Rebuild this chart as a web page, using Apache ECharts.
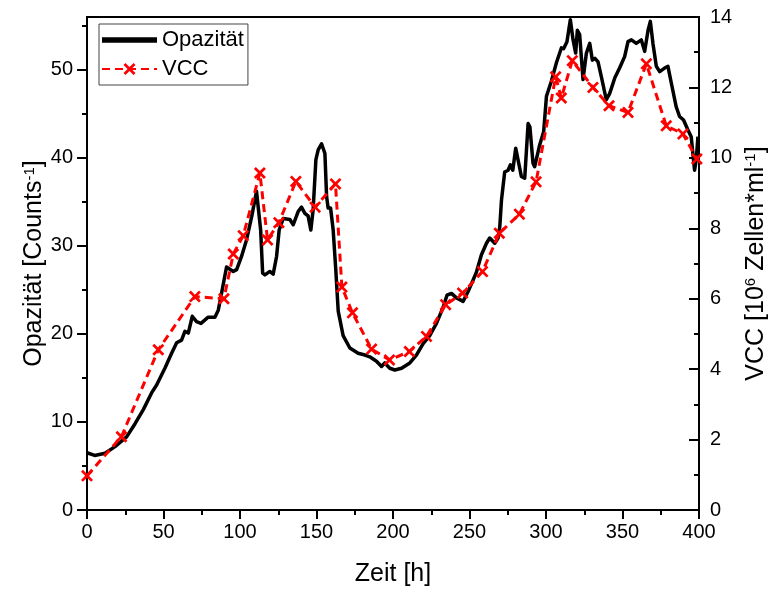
<!DOCTYPE html>
<html><head><meta charset="utf-8">
<script src="https://cdn.jsdelivr.net/npm/echarts@6/dist/echarts.min.js"></script>
<style>html,body{margin:0;padding:0;background:#fff}#c{width:769px;height:590px}</style>
</head><body><div id="c"></div>
<script>
const opazitaetZeit = [0,5,11.8,18.3,25.9,31.4,36.8,42.2,45.5,50.9,55.3,58.6,61.8,64,66.2,68.8,71.6,74.5,79.2,83.6,85.8,87.5,91.2,92.3,95.6,97.8,101,104.3,107.6,110.8,113.5,114.8,116.3,119.5,121.7,123.9,125.6,128.2,132.6,134.8,138,140.2,142.4,144.5,146.3,147.8,149.6,151.1,153.3,155.5,156.6,157.6,159.2,160.9,162.6,164.2,167.4,171.8,177.2,181.6,184.8,189.2,192.5,194.6,197.9,201.2,205.6,211,215.3,219.7,224,228.4,232.7,235.3,238.2,241.5,245.8,249,252.3,254.5,257.8,261.1,263.2,266.5,268.7,269.8,270.9,273,275.2,276.7,278.3,280.2,281.7,283.9,286.1,288.3,289.5,291.5,292.6,295.9,298.5,300.3,303.5,306.8,310.1,311.5,313.7,315.9,317.7,319.4,320.5,322,324.2,326.4,328.6,330.3,332,334,336.2,339.4,341.6,345,348.1,351.4,353.6,355.8,359,362.3,364.5,366.7,368.2,369.9,372.1,374.3,377.5,379.7,381.9,385.1,387.3,389.9,392.7,394.9,397.1,398.2,399.3];
const opazitaetWert = [6.5,6.2,6.45,7.2,8.3,9.8,11.4,13.3,14.2,16.1,17.8,19.0,19.3,20.3,20.1,22.0,21.4,21.2,21.9,21.9,22.7,24.2,27.6,27.8,27.1,27.3,28.8,30.7,33.3,36.2,31.8,26.9,26.7,27.1,26.8,28.8,31.8,33.1,33.0,32.4,33.9,34.4,33.7,33.4,31.8,34.1,39.8,40.9,41.6,40.5,35.6,34.3,34.3,31.8,27.3,22.6,19.8,18.4,17.8,17.6,17.4,16.9,16.3,16.7,16.1,15.9,16.1,16.7,17.6,18.9,19.8,21.2,23.0,24.4,24.6,24.1,23.7,24.8,26.1,27.0,29.0,30.3,30.9,30.3,30.9,32.2,35.2,38.4,38.6,39.2,38.6,41.1,39.8,37.9,37.7,43.9,43.5,39.4,39.0,41.5,43.0,47.0,48.7,50.8,52.5,52.4,53.2,55.7,53.4,51.9,54.5,54.0,48.9,51.9,53.0,51.1,51.3,50.9,49.2,46.6,47.3,49.1,50.2,51.5,53.2,53.4,53.0,53.4,52.1,54.5,55.5,53.0,50.4,49.8,50.2,50.4,48.5,45.8,44.7,44.3,43.2,42.4,38.6,39.8,42.4];
const vccZeit = [0,22.5,46.6,70.5,89.5,95.6,102.1,113,118,125.4,136.5,149.1,162.4,166.6,173.5,186,197.7,210.7,221.9,234.4,245.5,258.5,269.5,282.6,293.5,306.3,310,317.2,330.7,341.2,353.6,365.6,378.6,389.5,398.6];
const vccWert = [0.97,2.08,4.55,6.06,6.0,7.27,7.79,9.57,7.67,8.16,9.33,8.6,9.26,6.33,5.6,4.57,4.26,4.5,4.93,5.83,6.16,6.77,7.86,8.4,9.32,12.3,11.7,12.76,12.0,11.48,11.29,12.67,10.91,10.68,9.97];
const xTickWerte = [0,50,100,150,200,250,300,350,400];
const linksMajor = [0,10,20,30,40,50];
const linksMinor = [5,15,25,35,45,55];

const FONT = 'Liberation Sans, Arial, sans-serif';
const opData = opazitaetZeit.map((t,i)=>[t, opazitaetWert[i]]);
const vccData = vccZeit.map((t,i)=>[t, vccWert[i]]);
const black = '#000';
const xSym = 'path://M0,1.6 L1.6,0 L5,3.4 L8.4,0 L10,1.6 L6.6,5 L10,8.4 L8.4,10 L5,6.6 L1.6,10 L0,8.4 L3.4,5 Z';
const barSym = 'path://M0,0 L10,0 L10,1 L0,1 Z';

const chart = echarts.init(document.getElementById('c'), null, {renderer:'canvas'});
chart.setOption({
  animation: false,
  backgroundColor: '#fff',
  textStyle: {fontFamily: FONT},
  grid: {left: 87, right: 70, top: 17, bottom: 80, show: true, borderColor: black, borderWidth: 2, outerBoundsMode: 'none', containLabel: false},
  legend: {
    orient: 'vertical', left: 99, top: 24, padding: [4, 4, 4, 2], itemGap: 5,
    itemWidth: 55, itemHeight: 15,
    borderColor: '#444', borderWidth: 1,
    textStyle: {fontSize: 22, color: black, fontFamily: FONT, lineHeight: 24},
    data: [{name: 'Opazität', icon: barSym}, 'VCC']
  },
  xAxis: {
    type: 'value', min: 0, max: 400, interval: 50,
    name: 'Zeit [h]', nameLocation: 'middle', nameGap: 52, nameMoveOverlap: false,
    nameTextStyle: {fontSize: 25, color: black, fontFamily: FONT},
    axisLine: {show: true, onZero: false, lineStyle: {color: black, width: 2}},
    axisTick: {show: true, inside: false, length: 9, lineStyle: {color: black, width: 2}},
    minorTick: {show: true, splitNumber: 2, length: 5, lineStyle: {color: black, width: 2}},
    splitLine: {show: false}, minorSplitLine: {show: false},
    axisLabel: {fontSize: 20, color: black, margin: 12, fontFamily: FONT,
      customValues: xTickWerte}
  },
  yAxis: [
    {
      type: 'value', min: 0, max: 56, position: 'left',
      name: 'Opazität [Counts{sup|-1}]', nameLocation: 'middle', nameGap: 40, nameRotate: 90, nameMoveOverlap: false,
      nameTextStyle: {fontSize: 25, color: black, fontFamily: FONT,
        rich: {sup: {fontSize: 15, verticalAlign: 'top', color: black, fontFamily: FONT}}},
      axisLine: {show: true, onZero: false, lineStyle: {color: black, width: 2}},
      axisTick: {show: true, inside: false, length: 10, customValues: linksMajor, lineStyle: {color: black, width: 2}},
      splitLine: {show: false},
      axisLabel: {fontSize: 20, color: black, margin: 14, fontFamily: FONT, customValues: linksMajor}
    },
    {
      type: 'value', min: 0, max: 56, position: 'left',
      axisLine: {show: false},
      axisTick: {show: true, inside: false, length: 5, customValues: linksMinor, lineStyle: {color: black, width: 2}},
      splitLine: {show: false},
      axisLabel: {show: false}
    },
    {
      type: 'value', min: 0, max: 14, interval: 2, position: 'right',
      name: 'VCC [10{sup|6} Zellen*ml{sup|-1}]', nameLocation: 'middle', nameGap: 44, nameRotate: 90,
      nameTextStyle: {fontSize: 25, color: black, fontFamily: FONT,
        rich: {sup: {fontSize: 15, verticalAlign: 'top', color: black, fontFamily: FONT}}},
      axisLine: {show: true, onZero: false, lineStyle: {color: black, width: 2}},
      axisTick: {show: true, inside: true, length: 10, lineStyle: {color: black, width: 2}},
      minorTick: {show: true, splitNumber: 2, length: 5, lineStyle: {color: black, width: 2}},
      splitLine: {show: false}, minorSplitLine: {show: false},
      axisLabel: {fontSize: 20, color: black, margin: 11, fontFamily: FONT}
    }
  ],
  series: [
    {
      name: 'Opazität', type: 'line', yAxisIndex: 0, data: opData,
      showSymbol: false, symbol: 'none', smooth: false,
      lineStyle: {color: black, width: 3.5, join: 'round'}, itemStyle: {color: black}
    },
    {
      name: 'VCC', type: 'line', yAxisIndex: 2, data: vccData,
      symbol: xSym, symbolSize: 12, showAllSymbol: true, clip: true,
      lineStyle: {color: '#ff0000', width: 3, type: [8, 5]},
      itemStyle: {color: '#ff0000'}
    }
  ]
});
</script></body></html>
